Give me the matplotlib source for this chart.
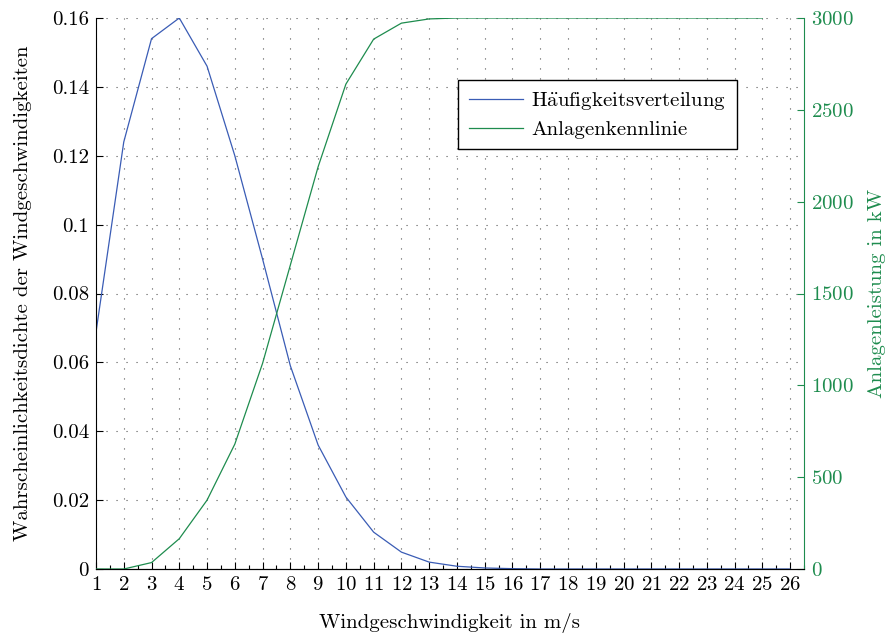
import matplotlib
matplotlib.use('Agg')
import matplotlib.pyplot as plt
import matplotlib.ticker

plt.rcParams['font.family'] = ['cmr10', 'DejaVu Serif']
plt.rcParams['mathtext.fontset'] = 'cm'
plt.rcParams['axes.formatter.use_mathtext'] = True
plt.rcParams['font.size'] = 15

# Windgeschwindigkeit in m/s
wind = list(range(1, 27))
# Wahrscheinlichkeitsdichte
dichte = [0.0688, 0.124, 0.154, 0.160, 0.146, 0.120, 0.090, 0.059, 0.036, 0.0209,
          0.0107, 0.0049, 0.0020, 0.0008, 0.0003, 0.0001, 0, 0, 0, 0,
          0, 0, 0, 0, 0, 0]
# Anlagenkennlinie in kW (bis 25 m/s)
wind_p = list(range(1, 26))
leistung = [0, 0, 35, 165, 375, 680, 1120, 1655, 2190, 2640,
            2885, 2972, 2995, 3000, 3000, 3000, 3000, 3000, 3000, 3000,
            3000, 3000, 3000, 3000, 3000]

blau = '#3a5cb5'
gruen = '#1e8c4e'

fig = plt.figure(figsize=(8.87, 6.4), dpi=100)
ax = fig.add_axes([96 / 887, 1 - 569 / 640, (804 - 96) / 887, (569 - 18) / 640])
ax2 = ax.twinx()

# ä über mathtext, damit es in cmr10 passt
l1, = ax.plot(wind, dichte, color=blau, linewidth=0.9,
              label=r'H$\ddot{\mathrm{a}}$ufigkeitsverteilung')
l2, = ax2.plot(wind_p, leistung, color=gruen, linewidth=0.9, label='Anlagenkennlinie')

ax.set_xlim(1, 26.5)
ax.set_ylim(0, 0.16)
ax2.set_ylim(0, 3000)
ax.set_xticks(wind)
ax.xaxis.set_minor_locator(matplotlib.ticker.MultipleLocator(0.5))
ax.set_yticks([0, 0.02, 0.04, 0.06, 0.08, 0.1, 0.12, 0.14, 0.16])
ax.set_yticklabels(['0', '0.02', '0.04', '0.06', '0.08', '0.1', '0.12', '0.14', '0.16'])
ax2.set_yticks(range(0, 3001, 500))

ax.grid(True, which='major', linestyle=(0, (1, 8)), color='#555555', linewidth=0.8)
ax.tick_params(direction='in', length=5, width=0.8, colors='black', labelsize=15, pad=5)
ax.tick_params(axis='x', which='minor', direction='in', length=3, width=0.8)
ax2.tick_params(direction='in', length=5, width=0.8, colors=gruen, labelsize=15, pad=5)

ax.spines['top'].set_visible(False)
ax2.spines['top'].set_visible(False)
ax.spines['right'].set_visible(False)
ax2.spines['left'].set_visible(False)
ax2.spines['right'].set_color(gruen)

ax.set_xlabel('Windgeschwindigkeit in m/s', labelpad=14)
ax.set_ylabel('Wahrscheinlichkeitsdichte der Windgeschwindigkeiten', labelpad=14)
ax2.set_ylabel('Anlagenleistung in kW', color=gruen, labelpad=10)

leg = ax2.legend(handles=[l1, l2], loc='upper left', bbox_to_anchor=(0.497, 0.907),
                 fancybox=False, edgecolor='black', framealpha=1, fontsize=15,
                 handlelength=2.6, borderpad=0.5, handletextpad=0.4, labelspacing=0.4)
leg.get_frame().set_linewidth(1.0)

fig.savefig('out.png', dpi=100)
